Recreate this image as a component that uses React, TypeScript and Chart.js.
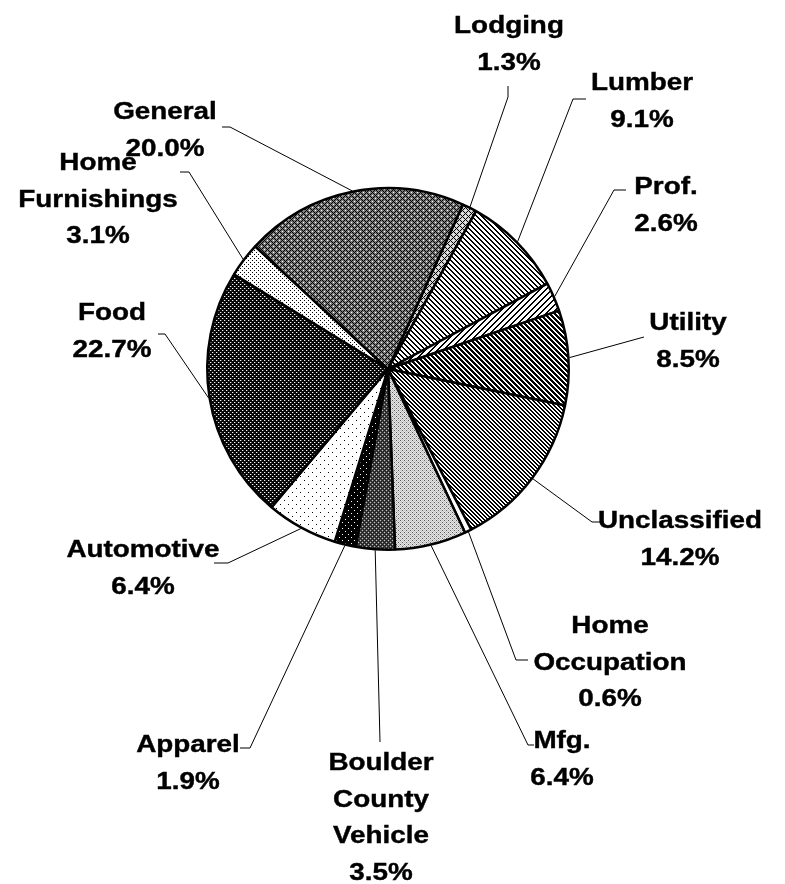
import React, { useEffect, useRef } from "react";
import { Chart, registerables } from "chart.js";

Chart.register(...registerables);

const categories: string[][] = [
  ["Lodging"],
  ["Lumber"],
  ["Prof."],
  ["Utility"],
  ["Unclassified"],
  ["Home", "Occupation"],
  ["Mfg."],
  ["Boulder", "County", "Vehicle"],
  ["Apparel"],
  ["Automotive"],
  ["Food"],
  ["Home", "Furnishings"],
  ["General"],
];

const shares: number[] = [1.3, 9.1, 2.6, 8.5, 14.2, 0.6, 6.4, 3.5, 1.9, 6.4, 22.7, 3.1, 20.0];

// label layout: centre x, first baseline y, anchor point of leader, elbow point
const labelLayout = [
  { x: 509, y: 33, ax: 508, ay: 86, ex: 508, ey: 97 },
  { x: 642, y: 90, ax: 586, ay: 99, ex: 573, ey: 99 },
  { x: 666, y: 194, ax: 626, ay: 190, ex: 614, ey: 190 },
  { x: 688, y: 330, ax: 644, ay: 337, ex: 644, ey: 337 },
  { x: 680, y: 528, ax: 604, ay: 522, ex: 592, ey: 522 },
  { x: 610, y: 633, ax: 528, ay: 660, ex: 516, ey: 660 },
  { x: 562, y: 748, ax: 534, ay: 745, ex: 528, ey: 745 },
  { x: 381, y: 770, ax: 380, ay: 742, ex: 380, ey: 742 },
  { x: 188, y: 752, ax: 240, ay: 748, ex: 250, ey: 748 },
  { x: 143, y: 557, ax: 214, ay: 563, ex: 228, ey: 563 },
  { x: 112, y: 320, ax: 158, ay: 334, ex: 165, ey: 334 },
  { x: 98, y: 170, ax: 180, ay: 172, ex: 189, ey: 172 },
  { x: 165, y: 119, ax: 222, ay: 127, ex: 230, ey: 127 },
];

function makeTile(w: number, h: number, fn: (x: number, y: number) => string): CanvasPattern | string {
  const c = document.createElement("canvas");
  c.width = w;
  c.height = h;
  const g = c.getContext("2d");
  if (!g) return "#888";
  for (let y = 0; y < h; y++) {
    for (let x = 0; x < w; x++) {
      g.fillStyle = fn(x, y);
      g.fillRect(x, y, 1, 1);
    }
  }
  const m = document.createElement("canvas").getContext("2d");
  return (m && m.createPattern(c, "repeat")) || "#888";
}

function buildPatterns() {
  const B = "#000000";
  const W = "#ffffff";
  const weave = (gray: string) => (x: number, y: number) => {
    const a = (x + y) % 6;
    const b = (x - y + 6) % 6;
    if (a === 0 || b === 0) return B;
    if (a === 3 && b === 3) return W;
    return gray;
  };
  const back = (p: number, w: number) => (x: number, y: number) => ((x - y + 100 * p) % p) < w ? B : W;
  const fwd = (p: number, w: number) => (x: number, y: number) => ((x + y) % p) < w ? B : W;
  return [
    makeTile(6, 6, weave("#d0d0d0")), // Lodging
    makeTile(5, 5, back(5, 2)), // Lumber
    makeTile(6, 6, fwd(6, 2)), // Prof
    makeTile(5, 5, back(5, 3)), // Utility
    makeTile(4, 4, back(4, 2)), // Unclassified
    "#ffffff", // Home Occupation
    makeTile(4, 4, (x, y) => (x === 0 && y === 0) || (x === 2 && y === 2) ? "#555" : (x + y) % 2 === 0 ? "#c0c0c0" : "#e8e8e8"), // Mfg
    makeTile(4, 4, (x, y) => (x === 0 && y === 0) || (x === 2 && y === 2) ? "#c0c0c0" : (x + y) % 2 === 0 ? "#202020" : "#484848"), // Boulder
    makeTile(6, 6, (x, y) => (x === 0 && y === 0) || (x === 3 && y === 3) ? W : B), // Apparel
    makeTile(8, 8, (x, y) => (x === 0 && y === 0) || (x === 4 && y === 4) ? B : W), // Automotive
    makeTile(4, 4, (x, y) => (x === 0 && y === 0) || (x === 2 && y === 2) ? "#f0f0f0" : (x === 1 && y === 0) || (x === 3 && y === 2) ? "#505050" : "#080808"), // Food
    makeTile(4, 4, (x, y) => (x === 0 && y === 0) || (x === 2 && y === 2) ? B : W), // Home Furnishings
    makeTile(6, 6, weave("#7a7a7a")), // General
  ];
}

const FONT_PX = 24;
const LINE_H = 36.5;
const X_STRETCH = 1.16;

const calloutPlugin = {
  id: "callouts",
  afterDraw(chart: any) {
    const ctx: CanvasRenderingContext2D = chart.ctx;
    const meta = chart.getDatasetMeta(0);
    const values: number[] = chart.data.datasets[0].data;
    ctx.save();
    ctx.strokeStyle = "#000";
    ctx.lineWidth = 1;
    meta.data.forEach((arc: any, i: number) => {
      const p = arc.getProps(["x", "y", "startAngle", "endAngle", "outerRadius"], true);
      const mid = (p.startAngle + p.endAngle) / 2;
      const r = p.outerRadius + 1;
      const px = p.x + Math.cos(mid) * r;
      const py = p.y + Math.sin(mid) * r;
      const L = labelLayout[i];
      ctx.beginPath();
      ctx.moveTo(L.ax, L.ay);
      ctx.lineTo(L.ex, L.ey);
      ctx.lineTo(px, py);
      ctx.stroke();
    });
    ctx.fillStyle = "#000";
    ctx.strokeStyle = "#000";
    ctx.lineWidth = 0.4;
    ctx.textAlign = "center";
    ctx.textBaseline = "alphabetic";
    ctx.font = `bold ${FONT_PX}px "Liberation Sans", Arial, sans-serif`;
    categories.forEach((name, i) => {
      const L = labelLayout[i];
      const lines = [...name, `${values[i].toFixed(1)}%`];
      lines.forEach((t, k) => {
        ctx.save();
        ctx.translate(L.x, L.y + k * LINE_H);
        ctx.scale(X_STRETCH, 1);
        ctx.fillText(t, 0, 0);
        ctx.strokeText(t, 0, 0);
        ctx.restore();
      });
    });
    ctx.restore();
  },
};

export default function App() {
  const ref = useRef<HTMLCanvasElement | null>(null);
  useEffect(() => {
    if (!ref.current) return;
    const chart = new Chart(ref.current, {
      type: "pie",
      data: {
        labels: categories.map((c) => c.join(" ")),
        datasets: [
          {
            data: shares,
            backgroundColor: buildPatterns() as any,
            borderColor: "#000",
            borderWidth: 2.5,
          },
        ],
      },
      options: {
        responsive: false,
        maintainAspectRatio: false,
        animation: false,
        rotation: 24.5,
        layout: { padding: { left: 206, right: 215, top: 187, bottom: 333 } },
        plugins: { legend: { display: false }, tooltip: { enabled: false } },
      },
      plugins: [calloutPlugin],
    });
    return () => chart.destroy();
  }, []);
  return (
    <div style={{ position: "absolute", left: 0, top: 0, width: 785, height: 884, background: "#fff" }}>
      <canvas ref={ref} width={785} height={884} />
    </div>
  );
}
